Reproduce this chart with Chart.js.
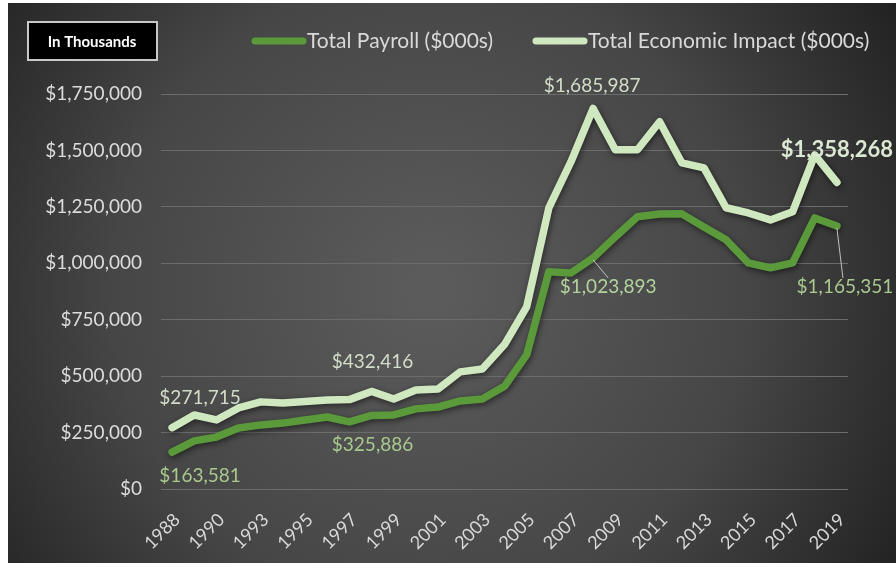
<!DOCTYPE html>
<html>
<head>
<meta charset="utf-8">
<script src="https://cdn.jsdelivr.net/npm/chart.js@4.4.1/dist/chart.umd.min.js"></script>
<style>
  html, body { margin: 0; padding: 0; background: #ffffff; }
  #wrap { position: relative; width: 896px; height: 573px; }
  canvas { display: block; }
</style>
</head>
<body>
<div id="wrap"><canvas id="c" width="896" height="573"></canvas></div>
<script>
// ---- data ----
const years = ['1988','1989','1990','1991','1993','1994','1995','1996','1997','1998','1999','2000','2001','2002','2003','2004','2005','2006','2007','2008','2009','2010','2011','2012','2013','2014','2015','2016','2017','2018','2019'];
const payroll = [163581, 213000, 230000, 270000, 284000, 292000, 306000, 319000, 297000, 325886, 328000, 355000, 363000, 390000, 399000, 455000, 594000, 962000, 957000, 1023893, 1117000, 1206000, 1218000, 1219000, 1161000, 1104000, 1002000, 980000, 1002000, 1201000, 1165351];
const economic = [271715, 328000, 306000, 359000, 386000, 381000, 388000, 394000, 396000, 432416, 399000, 439000, 443000, 519000, 532000, 640000, 807000, 1245000, 1450000, 1685987, 1503000, 1503000, 1627000, 1445000, 1423000, 1246000, 1223000, 1192000, 1228000, 1480000, 1358268];
const seriesNames = ['Total Payroll ($000s)', 'Total Economic Impact ($000s)'];
const yTicks = [0, 250000, 500000, 750000, 1000000, 1250000, 1500000, 1750000];
const unitNote = 'In Thousands';

// ---- styling ----
const FONT = 'Lato, "Open Sans", sans-serif';
const payrollColor = '#5b9a3b';
const economicColor = '#cfe8bf';
const fmt = v => '$' + v.toLocaleString('en-US');

// data labels: which points get a value label (dataset index, point index) and how it is placed
const labelSpecs = [
  { ds: 1, i: 0,  dx: 28, dy: -30, color: '#d2dec9' },
  { ds: 0, i: 0,  dx: 28, dy: 24,  color: '#a9c98f' },
  { ds: 1, i: 9,  dx: 1,  dy: -30, color: '#d2dec9' },
  { ds: 0, i: 9,  dx: 1,  dy: 29,  color: '#a9c98f' },
  { ds: 1, i: 19, dx: -1, dy: -23, color: '#d2dec9' },
  { ds: 0, i: 19, dx: 15, dy: 29,  color: '#b3d39c', leader: true },
  { ds: 1, i: 30, dx: 0,  dy: -33, color: '#dbe8d2', bold: true },
  { ds: 0, i: 30, dx: 8,  dy: 61,  color: '#a9c98f', leader: true }
];

const bgPlugin = {
  id: 'bg',
  beforeDraw(chart) {
    const ctx = chart.ctx;
    ctx.save();
    ctx.fillStyle = '#ffffff';
    ctx.fillRect(0, 0, chart.width, chart.height);
    const g = ctx.createRadialGradient(430, 290, 20, 430, 290, 560);
    g.addColorStop(0, '#5b5b5b');
    g.addColorStop(0.55, '#464646');
    g.addColorStop(1, '#202020');
    ctx.fillStyle = g;
    ctx.fillRect(8, 3, chart.width - 8, 560);
    ctx.restore();
  }
};

const shadowPlugin = {
  id: 'lineShadow',
  beforeDatasetDraw(chart) {
    const ctx = chart.ctx;
    ctx.save();
    ctx.shadowColor = 'rgba(0,0,0,0.55)';
    ctx.shadowBlur = 6;
    ctx.shadowOffsetX = 1;
    ctx.shadowOffsetY = 2;
  },
  afterDatasetDraw(chart) {
    chart.ctx.restore();
  }
};

const overlayPlugin = {
  id: 'overlay',
  afterDraw(chart) {
    const ctx = chart.ctx;
    ctx.save();
    // unit box
    ctx.fillStyle = '#000000';
    ctx.fillRect(27, 21, 131, 40);
    ctx.strokeStyle = '#c8c8c8';
    ctx.lineWidth = 2;
    ctx.strokeRect(28, 22, 129, 38);
    ctx.fillStyle = '#ffffff';
    ctx.font = 'bold 15px ' + FONT;
    ctx.textAlign = 'center';
    ctx.textBaseline = 'middle';
    ctx.fillText(unitNote, 92, 42);

    // legend
    ctx.font = '21px ' + FONT;
    ctx.textAlign = 'left';
    ctx.textBaseline = 'middle';
    const legendX = [252, 533];
    chart.data.datasets.forEach((ds, k) => {
      const x = legendX[k], y = 41;
      ctx.strokeStyle = ds.borderColor;
      ctx.lineWidth = 7;
      ctx.lineCap = 'round';
      ctx.beginPath();
      ctx.moveTo(x + 3, y);
      ctx.lineTo(x + 51, y);
      ctx.stroke();
      ctx.fillStyle = '#d9d9d9';
      ctx.fillText(ds.label, x + 55, y);
    });

    // data labels
    ctx.lineCap = 'butt';
    labelSpecs.forEach(s => {
      const pt = chart.getDatasetMeta(s.ds).data[s.i];
      const v = chart.data.datasets[s.ds].data[s.i];
      const tx = pt.x + s.dx, ty = pt.y + s.dy;
      if (s.leader) {
        ctx.strokeStyle = '#bfbfbf';
        ctx.lineWidth = 1;
        ctx.beginPath();
        ctx.moveTo(pt.x, pt.y + 2);
        ctx.lineTo(tx - (s.dx > 10 ? 0 : 2), ty - 9);
        ctx.stroke();
      }
      ctx.font = (s.bold ? 'bold 22px ' : '19px ') + FONT;
      ctx.fillStyle = s.color;
      ctx.textAlign = 'center';
      ctx.textBaseline = 'middle';
      ctx.fillText(fmt(v), tx, ty);
    });
    ctx.restore();
  }
};

new Chart(document.getElementById('c'), {
  type: 'line',
  data: {
    labels: years,
    datasets: [
      { label: seriesNames[0], data: payroll, borderColor: payrollColor, backgroundColor: payrollColor,
        borderWidth: 7.5, pointRadius: 0, tension: 0, borderJoinStyle: 'round', borderCapStyle: 'round' },
      { label: seriesNames[1], data: economic, borderColor: economicColor, backgroundColor: economicColor,
        borderWidth: 7.5, pointRadius: 0, tension: 0, borderJoinStyle: 'round', borderCapStyle: 'round' }
    ]
  },
  options: {
    responsive: false,
    animation: false,
    layout: { padding: { top: 94, right: 48, bottom: 0, left: 0 } },
    plugins: { legend: { display: false }, tooltip: { enabled: false } },
    scales: {
      x: {
        offset: true,
        grid: { display: false },
        border: { display: false },
        afterFit(scale) { scale.height = 84; },
        ticks: {
          autoSkip: false,
          maxRotation: 45,
          minRotation: 45,
          padding: 12,
          labelOffset: 5,
          color: '#d9d9d9',
          font: { family: FONT, size: 18 },
          callback: function (val, idx) { return idx % 2 === 0 ? this.getLabelForValue(val) : ''; }
        }
      },
      y: {
        min: yTicks[0],
        max: yTicks[yTicks.length - 1],
        afterFit(scale) { scale.width = 161; },
        afterBuildTicks(scale) { scale.ticks = yTicks.map(v => ({ value: v })); },
        grid: { color: '#6c6c6c', lineWidth: 1, drawTicks: false },
        border: { display: false },
        ticks: {
          padding: 19,
          color: '#dcdcdc',
          font: { family: FONT, size: 19 },
          callback: v => fmt(v)
        }
      }
    }
  },
  plugins: [bgPlugin, shadowPlugin, overlayPlugin]
});
</script>
</body>
</html>
